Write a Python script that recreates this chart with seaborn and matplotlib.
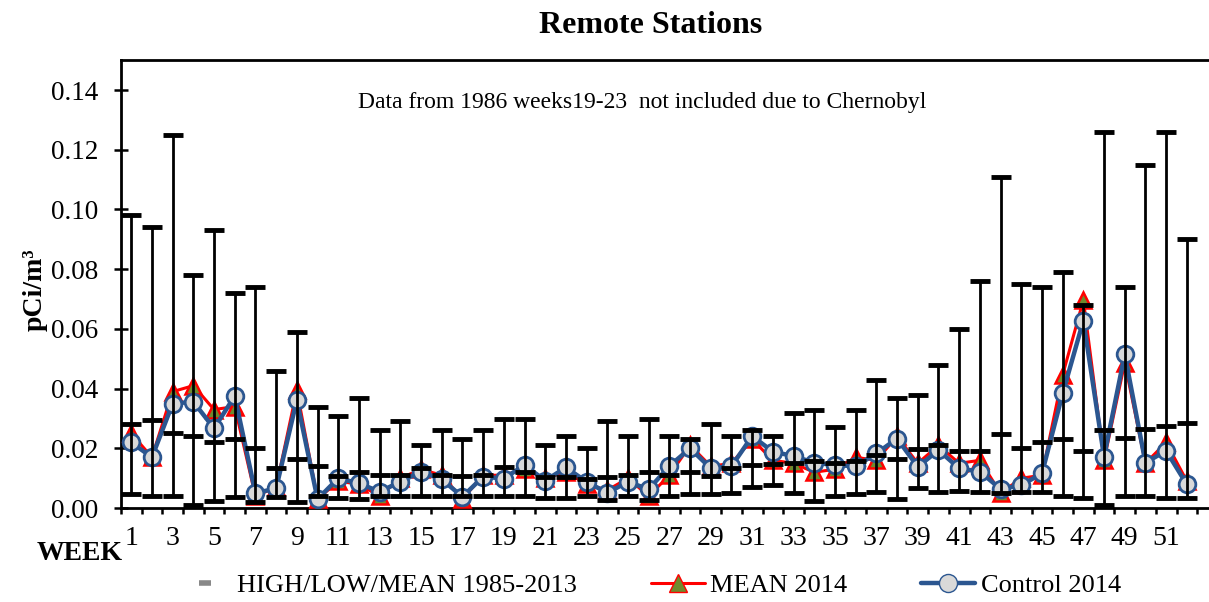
import numpy as np
import pandas as pd
import seaborn as sns
import matplotlib.pyplot as plt
from matplotlib.lines import Line2D
from matplotlib.ticker import FixedLocator

weeks = list(range(1, 53))

# historical 1985-2013 envelope
high = [0.098, 0.094, 0.125, 0.078, 0.093, 0.072, 0.074, 0.046, 0.059, 0.034,
        0.031, 0.037, 0.026, 0.029, 0.021, 0.026, 0.023, 0.026, 0.030, 0.030,
        0.021, 0.024, 0.020, 0.029, 0.024, 0.030, 0.024, 0.023, 0.028, 0.024,
        0.026, 0.024, 0.032, 0.033, 0.027, 0.033, 0.043, 0.037, 0.038, 0.048,
        0.060, 0.076, 0.111, 0.075, 0.074, 0.079, 0.068, 0.126, 0.074, 0.115,
        0.126, 0.090]
low = [0.0047, 0.0041, 0.0041, 0.0010, 0.0025, 0.0038, 0.0020, 0.0038, 0.0020, 0.0040,
       0.0035, 0.0032, 0.0040, 0.0040, 0.0041, 0.0040, 0.0040, 0.0041, 0.0041, 0.0040,
       0.0035, 0.0035, 0.0041, 0.0027, 0.0040, 0.0027, 0.0040, 0.0047, 0.0047, 0.0051,
       0.0069, 0.0077, 0.0049, 0.0025, 0.0041, 0.0047, 0.0055, 0.0032, 0.0066, 0.0055,
       0.0058, 0.0055, 0.0051, 0.0055, 0.0055, 0.0041, 0.0035, 0.0010, 0.0041, 0.0041,
       0.0035, 0.0035]
mean_hist = [0.0280, 0.0295, 0.0250, 0.0240, 0.0220, 0.0230, 0.0200, 0.0133, 0.0166, 0.0142,
             0.0107, 0.0120, 0.0110, 0.0110, 0.0133, 0.0110, 0.0107, 0.0110, 0.0136, 0.0122,
             0.0105, 0.0105, 0.0099, 0.0105, 0.0110, 0.0122, 0.0110, 0.0122, 0.0107, 0.0135,
             0.0144, 0.0147, 0.0150, 0.0158, 0.0150, 0.0158, 0.0178, 0.0163, 0.0197, 0.0211,
             0.0192, 0.0192, 0.0248, 0.0200, 0.0220, 0.0231, 0.0192, 0.0261, 0.0236, 0.0265,
             0.0275, 0.0284]

# 2014
mean_2014 = [0.025, 0.017, 0.039, 0.041, 0.033, 0.034, 0.004, 0.007, 0.0395, 0.003,
             0.009, 0.008, 0.004, 0.010, 0.013, 0.011, 0.003, 0.011, 0.011, 0.013,
             0.010, 0.012, 0.008, 0.006, 0.010, 0.004, 0.011, 0.021, 0.014, 0.015,
             0.023, 0.016, 0.015, 0.012, 0.013, 0.017, 0.016, 0.024, 0.015, 0.021,
             0.015, 0.016, 0.005, 0.010, 0.011, 0.0446, 0.0697, 0.016, 0.0487, 0.015,
             0.022, 0.009]
control_2014 = [0.022, 0.017, 0.035, 0.0356, 0.0267, 0.0375, 0.005, 0.0066, 0.0362, 0.003,
                0.010, 0.0083, 0.0055, 0.0088, 0.0122, 0.0096, 0.0038, 0.0105, 0.0099, 0.0144,
                0.0092, 0.0136, 0.0088, 0.0051, 0.0088, 0.0063, 0.0141, 0.020, 0.0133, 0.014,
                0.0241, 0.0189, 0.0174, 0.0152, 0.0144, 0.014, 0.0183, 0.0233, 0.0138, 0.0194,
                0.0133, 0.0122, 0.0064, 0.0077, 0.0116, 0.0384, 0.0628, 0.0172, 0.0515, 0.0152,
                0.0192, 0.0079]

week_labels = [str(w) for w in range(1, 53, 2)]

sns.set_style('ticks')
plt.rcParams['font.family'] = ['Liberation Serif', 'DejaVu Serif']
plt.rcParams['text.color'] = 'black'
plt.rcParams['xtick.color'] = 'black'
plt.rcParams['ytick.color'] = 'black'

df = pd.DataFrame({'week': weeks, 'mean_2014': mean_2014, 'control_2014': control_2014})

fig = plt.figure(figsize=(12.09, 6.02), dpi=100)
ax = fig.add_axes([0.1, 0.156, 0.9, 0.744])

red = '#FF0000'
navy = '#2B5690'

sns.lineplot(data=df, x='week', y='mean_2014', ax=ax, color=red, lw=2.2,
             marker='^', markersize=12, markerfacecolor='#6E8B2E',
             markeredgecolor=red, markeredgewidth=1.8, zorder=3)
sns.lineplot(data=df, x='week', y='control_2014', ax=ax, color=navy, lw=3.2,
             marker='o', markersize=12, markerfacecolor='#D9D9D9',
             markeredgecolor=navy, markeredgewidth=2, zorder=4)

# high / low / mean bars on top
mh = np.array(mean_hist)
ax.errorbar(weeks, mh, yerr=[mh - np.array(low), np.array(high) - mh],
            fmt='_', color='black', ecolor='black', elinewidth=2,
            capsize=7.5, capthick=3.5, markersize=15, mew=3.5, zorder=5)

ax.set_xlim(0.5, 53.07)
ax.set_ylim(0, 0.15)
ax.set_yticks(np.arange(0, 0.141, 0.02))
ax.set_yticklabels([f'{v:.2f}' for v in np.arange(0, 0.141, 0.02)])
ax.set_xticks(range(1, 53, 2))
ax.set_xticklabels(week_labels)
ax.xaxis.set_minor_locator(FixedLocator(np.arange(0.5, 53, 1)))
ax.tick_params(axis='x', which='major', length=0, pad=13, labelsize=20)
ax.tick_params(axis='x', which='minor', length=4.5, width=1.8, direction='out')
ax.tick_params(axis='y', which='major', length=10, width=1.8, direction='inout',
               pad=11, labelsize=19.5)
ax.set_xlabel('')
ax.set_ylabel('')
for s in ['left', 'bottom', 'top']:
    ax.spines[s].set_linewidth(2)
    ax.spines[s].set_color('black')
ax.spines['right'].set_visible(False)

fig.text(0.538, 0.958, 'Remote Stations', ha='center', va='center',
         fontsize=23, fontweight='bold')
fig.text(0.531, 0.829, 'Data from 1986 weeks19-23  not included due to Chernobyl',
         ha='center', va='center', fontsize=17)
fig.text(0.029, 0.518, 'pCi/m³', rotation=90, ha='center', va='center',
         fontsize=20, fontweight='bold')
fig.text(0.066, 0.081, 'WEEK', ha='center', va='center', fontsize=20, fontweight='bold')

handles = [
    Line2D([], [], ls='none', marker='_', color='#888888', markersize=9, mew=4),
    Line2D([], [], color=red, lw=2.2, marker='^', markersize=13,
           markerfacecolor='#6E8B2E', markeredgecolor=red),
    Line2D([], [], color=navy, lw=3.2, marker='o', markersize=13,
           markerfacecolor='#D9D9D9', markeredgecolor=navy),
]
labels = ['HIGH/LOW/MEAN 1985-2013', 'MEAN 2014', 'Control 2014']
fig.legend(handles, labels, loc='center', bbox_to_anchor=(0.537, 0.027), ncol=3,
           frameon=False, fontsize=19, handlelength=2.05, handletextpad=0.2,
           columnspacing=2.8)

fig.savefig('out.png', dpi=100)
